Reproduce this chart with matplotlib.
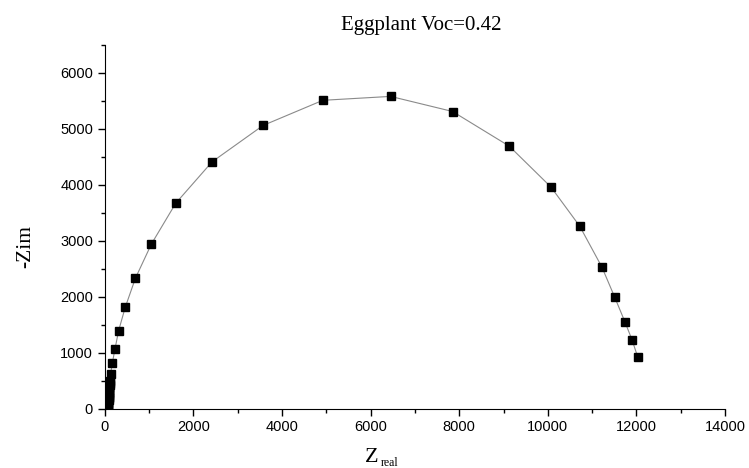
import matplotlib.pyplot as plt
from matplotlib.ticker import MultipleLocator

# Dados do diagrama de Nyquist
z_real = [70, 72, 75, 78, 80, 83, 85, 88, 90, 93, 95, 98, 100, 103, 105, 108, 110,
          130, 170, 230, 310, 460, 690, 1050, 1600, 2420, 3570, 4920, 6450,
          7850, 9130, 10070, 10720, 11220, 11510, 11740, 11900, 12030]
z_im = [0, 30, 60, 90, 120, 150, 180, 210, 240, 270, 300, 330, 360, 390, 420, 455, 490,
        620, 820, 1070, 1390, 1810, 2330, 2940, 3670, 4410, 5060, 5510, 5580,
        5310, 4690, 3960, 3260, 2530, 1990, 1550, 1230, 920]

x_ticks = [0, 2000, 4000, 6000, 8000, 10000, 12000, 14000]
y_ticks = [0, 1000, 2000, 3000, 4000, 5000, 6000]

fig = plt.figure(figsize=(7.49, 4.68), dpi=100)
ax = fig.add_axes([0.140, 0.127, 0.828, 0.777])

ax.plot(z_real, z_im, color='#8a8a8a', lw=0.8, zorder=1)
ax.plot(z_real, z_im, ls='none', marker='s', ms=6, color='black', zorder=2)

ax.set_xlim(0, 14000)
ax.set_ylim(0, 6500)
ax.set_xticks(x_ticks)
ax.set_yticks(y_ticks)
ax.xaxis.set_minor_locator(MultipleLocator(1000))
ax.yaxis.set_minor_locator(MultipleLocator(500))
ax.tick_params(which='both', direction='out', width=1, labelsize=10.5)
ax.tick_params(which='major', length=5)
ax.tick_params(which='minor', length=3)
for lab in ax.get_xticklabels() + ax.get_yticklabels():
    lab.set_family('Liberation Sans')

ax.spines['top'].set_visible(False)
ax.spines['right'].set_visible(False)

serif = 'Liberation Serif'
ax.set_title('Eggplant Voc=0.42', family=serif, fontsize=15, x=0.51, pad=11)

# rótulo do eixo y
ax.set_ylabel('-Zim', family=serif, fontsize=15.5)
ax.yaxis.set_label_coords(-0.128, 0.445)
ax.yaxis.label.set_va('center')

# rótulo do eixo x: Z com subscrito pequeno
fig.text(0.487, 0.0128, 'Z', family=serif, fontsize=16, ha='left', va='baseline')
fig.text(0.509, 0.004, 'real', family=serif, fontsize=8.5, ha='left', va='baseline')

plt.savefig('out.png', dpi=100)
